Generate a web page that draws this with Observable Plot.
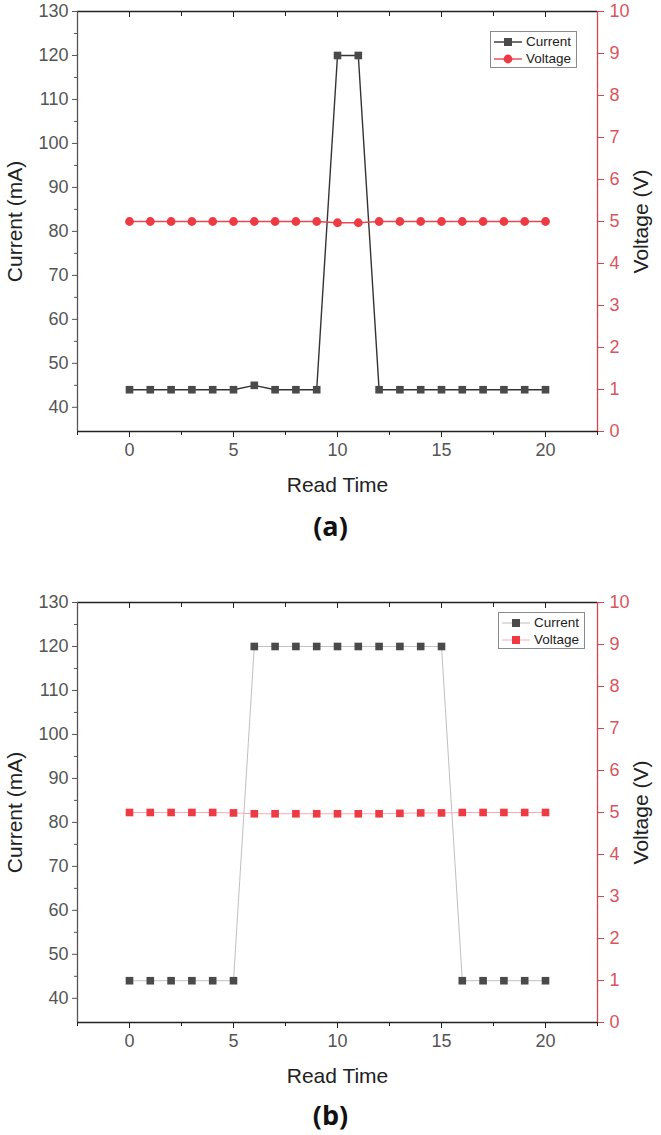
<!DOCTYPE html>
<html><head><meta charset="utf-8">
<script src="https://cdn.jsdelivr.net/npm/d3@7"></script>
<script src="https://cdn.jsdelivr.net/npm/@observablehq/plot@0.6"></script>
<style>
body{margin:0;background:#fff;font-family:"Liberation Sans",Arial,sans-serif;}
#wrap{position:relative;width:661px;height:1135px;overflow:hidden;}
.chart{position:absolute;left:0;}
.panel{position:absolute;left:0;width:661px;text-align:center;font-family:"Open Sans",sans-serif;font-weight:700;font-size:27px;line-height:1;color:#111;}
.legend{position:absolute;border:1px solid #8a8a8a;background:#fff;font-size:13.5px;color:#222;box-sizing:border-box;padding:1px 0 0 2px;}
.legend .row{display:flex;align-items:center;height:17px;}
.legend svg{margin-right:3px;}
</style></head><body>
<div id="wrap"></div>
<script>
// ---- data ----
const readTime = [0,1,2,3,4,5,6,7,8,9,10,11,12,13,14,15,16,17,18,19,20];
const currentA = [44,44,44,44,44,44,45,44,44,44,120,120,44,44,44,44,44,44,44,44,44];
const voltageA = [5,5,5,5,5,5,5,5,5,5,4.97,4.97,5,5,5,5,5,5,5,5,5];
const currentB = [44,44,44,44,44,44,120,120,120,120,120,120,120,120,120,120,44,44,44,44,44];
const voltageB = [5,5,5,5,5,4.99,4.97,4.97,4.97,4.97,4.97,4.97,4.97,4.98,4.99,4.99,5,5,5,5,5];
const currentTicks = [40,50,60,70,80,90,100,110,120,130];
const currentMinor = [45,55,65,75,85,95,105,115,125];
const voltageTicks = [0,1,2,3,4,5,6,7,8,9,10];
const xTicks = [0,5,10,15,20];
const xMinor = [-2.5,2.5,7.5,12.5,17.5,22.5];
const seriesNames = ["Current","Voltage"];

const xDomain = [-2.5, 22.5];
const cDomain = [34.5, 130];
const vDomain = [0, 10];
const v2c = v => cDomain[0] + (v - vDomain[0]) * (cDomain[1] - cDomain[0]) / (vDomain[1] - vDomain[0]);
const c2v = c => (c - cDomain[0]) * (vDomain[1] - vDomain[0]) / (cDomain[1] - cDomain[0]) + vDomain[0];

const RED_AXIS = "#d9454f";
const RED_TXT = "#d9545d";
const GRAY = "#555";

function makeChart(current, voltage, style) {
  const dC = readTime.map((t,i)=>({t, c: current[i]}));
  const dV = readTime.map((t,i)=>({t, v: v2c(voltage[i])}));
  return Plot.plot({
    width: 661, height: 500,
    marginLeft: 77, marginRight: 64, marginTop: 11, marginBottom: 69,
    style: {fontFamily: "'Liberation Sans', Arial, sans-serif", background: "transparent"},
    x: {domain: xDomain},
    y: {domain: cDomain},
    marks: [
      Plot.ruleY([cDomain[1]], {stroke: "#222", strokeWidth: 1.3}),
      Plot.ruleY([cDomain[0]], {stroke: "#222", strokeWidth: 1.3}),
      Plot.ruleX([xDomain[0]], {stroke: GRAY, strokeWidth: 1.3}),
      Plot.ruleX([xDomain[1]], {stroke: RED_AXIS, strokeWidth: 1.3}),
      Plot.axisX({ticks: xTicks, tickSize: 6, tickPadding: 6, fontSize: 18, color: "#555", stroke: "#222", label: null}),
      Plot.axisX({ticks: xMinor, tickSize: 4, text: null, stroke: "#222", label: null}),
      Plot.axisX({anchor: "top", ticks: xTicks, tickSize: 5, dy: 5, text: null, stroke: "#222", label: null}),
      Plot.axisX({anchor: "top", ticks: xMinor.slice(1, -1), tickSize: 4, dy: 4, text: null, stroke: "#222", label: null}),
      Plot.axisY({ticks: currentTicks, tickSize: 5, tickPadding: 4, fontSize: 18, color: GRAY, label: null}),
      Plot.axisY({ticks: currentMinor, tickSize: 3, text: null, color: GRAY, label: null}),
      Plot.axisY({anchor: "right", ticks: voltageTicks.map(v2c), tickFormat: d => Math.round(c2v(d)),
        tickSize: 6, tickPadding: 6, fontSize: 18, stroke: RED_AXIS, fill: RED_TXT, label: null}),
      Plot.text(["Current (mA)"], {frameAnchor: "left", textAnchor: "middle", dx: -62, rotate: -90, fontSize: 21, fill: "#222"}),
      Plot.text(["Voltage (V)"], {frameAnchor: "right", textAnchor: "middle", dx: 44, rotate: -90, fontSize: 21, fill: "#222"}),
      Plot.text(["Read Time"], {frameAnchor: "bottom", textAnchor: "middle", dy: 60, fontSize: 21, fill: "#222"}),
      Plot.line(dC, {x: "t", y: "c", stroke: style.cLine, strokeWidth: style.lw}),
      Plot.line(dV, {x: "t", y: "v", stroke: style.vLine, strokeWidth: style.lw}),
      Plot.dot(dC, {x: "t", y: "c", symbol: "square", r: 4.3, fill: "#4a4a4a", stroke: "none"}),
      Plot.dot(dV, {x: "t", y: "v", symbol: style.vSymbol, r: style.vSymbol === "circle" ? 4.4 : 4.3, fill: "#ee3a43", stroke: "none"})
    ]
  });
}

function makeLegend(style, left, top) {
  const div = document.createElement("div");
  div.className = "legend";
  Object.assign(div.style, {left: left + "px", top: top + "px", width: "87px", height: "37px"});
  const specs = [
    {name: seriesNames[0], line: style.cLine, fill: "#4a4a4a", sym: "square"},
    {name: seriesNames[1], line: style.vLine, fill: "#ee3a43", sym: style.vSymbol}
  ];
  for (const s of specs) {
    const row = document.createElement("div");
    row.className = "row";
    const mk = s.sym === "circle"
      ? `<circle cx="15" cy="8" r="4.4" fill="${s.fill}"/>`
      : `<rect x="11" y="4" width="8" height="8" fill="${s.fill}"/>`;
    row.innerHTML = `<svg width="30" height="16"><line x1="1" y1="8" x2="29" y2="8" stroke="${s.line}" stroke-width="${style.lw}"/>${mk}</svg><span>${s.name}</span>`;
    div.appendChild(row);
  }
  return div;
}

const wrap = document.getElementById("wrap");
const styleA = {cLine: "#333", vLine: "#e8474d", lw: 1.4, vSymbol: "circle"};
const styleB = {cLine: "#b8b8b8", vLine: "#f4a3a7", lw: 0.9, vSymbol: "square"};

const chartA = makeChart(currentA, voltageA, styleA);
chartA.classList.add("chart"); chartA.style.top = "0px";
wrap.appendChild(chartA);
wrap.appendChild(makeLegend(styleA, 490, 31));
const labA = document.createElement("div"); labA.className = "panel"; labA.style.top = "512px"; labA.textContent = "(a)";
wrap.appendChild(labA);

const chartB = makeChart(currentB, voltageB, styleB);
chartB.classList.add("chart"); chartB.style.top = "591px";
wrap.appendChild(chartB);
wrap.appendChild(makeLegend(styleB, 498, 612));
const labB = document.createElement("div"); labB.className = "panel"; labB.style.top = "1101px"; labB.textContent = "(b)";
wrap.appendChild(labB);
</script>
</body></html>
